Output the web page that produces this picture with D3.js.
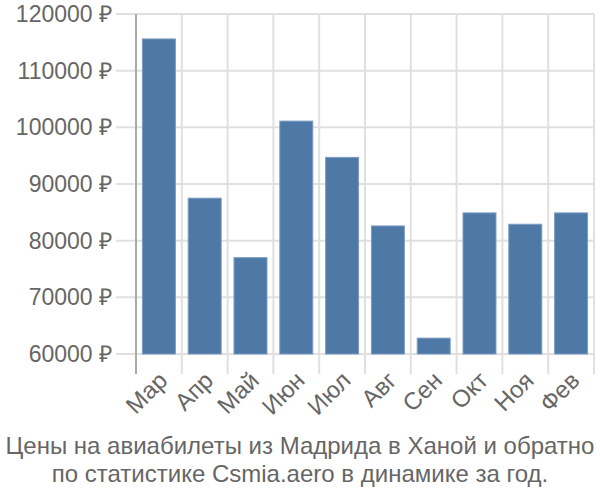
<!DOCTYPE html>
<html><head><meta charset="utf-8">
<script src="https://cdn.jsdelivr.net/npm/d3@7"></script>
<style>body{margin:0;background:#fff}svg{display:block;font-family:"Liberation Sans",Arial,sans-serif}</style>
</head><body><svg id="c" width="600" height="500"></svg>
<script>
const months = ["Мар","Апр","Май","Июн","Июл","Авг","Сен","Окт","Ноя","Фев"];
const prices = [115600, 87500, 77000, 101100, 94700, 82600, 62800, 84900, 82900, 84900];
const yTicks = [60000, 70000, 80000, 90000, 100000, 110000, 120000];
const titleLines = ["Цены на авиабилеты из Мадрида в Ханой и обратно", "по статистике Csmia.aero в динамике за год."];

const svg = d3.select("#c");
const pLeft = 136, pRight = 594, pTop = 14, pBottom = 354;
const x = d3.scaleBand().domain(months).range([pLeft, pRight]).padding(0);
const y = d3.scaleLinear().domain([60000, 120000]).range([pBottom, pTop]);

// horizontal grid
svg.append("g").selectAll("line").data(yTicks).join("line")
  .attr("x1", 116).attr("x2", pRight).attr("y1", d => y(d)).attr("y2", d => y(d))
  .attr("stroke", "#e0e0e0").attr("stroke-width", 2);
// vertical grid
const bounds = months.map(m => x(m)).concat([pRight]);
svg.append("g").selectAll("line").data(bounds.slice(1)).join("line")
  .attr("x1", d => d).attr("x2", d => d).attr("y1", pTop).attr("y2", pBottom + 20)
  .attr("stroke", "#e0e0e0").attr("stroke-width", 2);
// y axis line
svg.append("line").attr("x1", pLeft).attr("x2", pLeft).attr("y1", pTop).attr("y2", pBottom + 20)
  .attr("stroke", "#aaaaaa").attr("stroke-width", 2);

// bars
const inset = 0.14;
svg.append("g").selectAll("rect").data(prices).join("rect")
  .attr("x", (d, i) => x(months[i]) + x.bandwidth() * inset)
  .attr("width", x.bandwidth() * (1 - 2 * inset))
  .attr("y", d => y(d))
  .attr("height", d => y(60000) - y(d))
  .attr("fill", "#4e79a7")
  .attr("stroke", "#7d9cc2").attr("stroke-width", 1);

// y labels
svg.append("g").selectAll("text").data(yTicks).join("text")
  .attr("x", 112).attr("y", d => y(d)).attr("dy", "0.35em")
  .attr("text-anchor", "end").attr("fill", "#666").attr("font-size", 23)
  .text(d => d + " ₽");

// x labels
svg.append("g").selectAll("text").data(months).join("text")
  .attr("text-anchor", "end").attr("fill", "#666").attr("font-size", 24)
  .attr("transform", d => `translate(${x(d) + x.bandwidth() / 2 + 4},${pBottom + 22}) rotate(-45)`)
  .attr("dy", "0.35em")
  .text(d => d);

// title
svg.append("g").selectAll("text").data(titleLines).join("text")
  .attr("x", 300).attr("y", (d, i) => 454 + i * 28)
  .attr("text-anchor", "middle").attr("fill", "#666").attr("font-size", 24)
  .text(d => d);
</script></body></html>
